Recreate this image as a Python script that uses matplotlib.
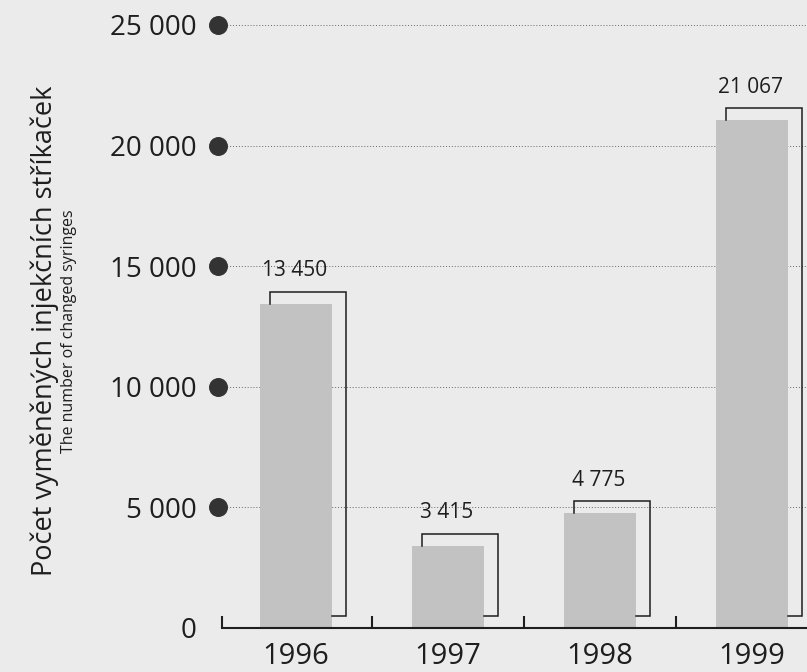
"""Exchanged syringes per year, bar chart with offset bracket outlines."""

import matplotlib.pyplot as plt
from matplotlib.transforms import blended_transform_factory

years = ["1996", "1997", "1998", "1999"]
syringes = [13450, 3415, 4775, 21067]
value_labels = ["13 450", "3 415", "4 775", "21 067"]
y_ticks = [0, 5000, 10000, 15000, 20000, 25000]
y_tick_labels = ["0", "5 000", "10 000", "15 000", "20 000", "25 000"]

BG = "#ebebeb"
BAR = "#c2c2c2"
INK = "#1e1e1e"
FONT = ["Open Sans", "DejaVu Sans"]

plt.rcParams["font.family"] = FONT
plt.rcParams["font.weight"] = 500

fig = plt.figure(figsize=(8.07, 6.72), dpi=100, facecolor=BG)
W, H = 807, 672
ax = fig.add_axes([222 / W, (H - 628) / H, (W - 222) / W, (628 - 25) / H])
ax.set_facecolor(BG)

ax.set_xlim(-0.487, 3.362)
ax.set_ylim(0, 25000)

bar_w = 0.474
xs = list(range(len(years)))
ax.bar(xs, syringes, width=bar_w, color=BAR, zorder=2)

# dotted guide lines with round dots at the left end
trans = blended_transform_factory(ax.transAxes, ax.transData)
for t in y_ticks[1:]:
    ax.plot([-0.007, 1.0], [t, t], transform=trans, ls=(0, (1, 2)),
            lw=0.7, color="#666666", zorder=1, clip_on=False)
ax.scatter([-0.007] * (len(y_ticks) - 1), y_ticks[1:], transform=trans,
           s=160, color="#333333", zorder=4, clip_on=False)

# bracket outline offset from each bar, with the value above
for x, v, lab in zip(xs, syringes, value_labels):
    left = x - bar_w / 2
    right = x + bar_w / 2
    top = v + 500
    ax.plot([left + 0.066, left + 0.066, right + 0.092, right + 0.092, right],
            [v, top, top, 500, 500], color=INK, lw=1.1, zorder=3,
            solid_joinstyle="miter")
    ax.text(x - 0.01, top + 420, lab, ha="center", va="bottom",
            fontsize=15, color=INK)

# axes styling
for side in ("left", "right", "top"):
    ax.spines[side].set_visible(False)
ax.spines["bottom"].set_color(INK)
ax.spines["bottom"].set_linewidth(1.5)

ax.set_yticks(y_ticks, y_tick_labels)
ax.tick_params(axis="y", length=0, pad=18, labelsize=20, labelcolor=INK)

ax.set_xticks([-0.487, 0.5, 1.5, 2.5])
ax.set_xticklabels([])
ax.tick_params(axis="x", direction="in", length=9, width=1.5, color=INK)
for x, yr in zip(xs, years):
    ax.text(x, -600, yr, ha="center", va="top", fontsize=21, color=INK)

fig.text(45 / W, 1 - 331 / H, "Počet vyměněných injekčních stříkaček",
         rotation=90, ha="center", va="center", fontsize=19.5, color=INK)
fig.text(69 / W, 1 - 331 / H, "The number of changed syringes",
         rotation=90, ha="center", va="center", fontsize=11.5, color=INK)

fig.savefig("out.png", dpi=100, facecolor=BG)
